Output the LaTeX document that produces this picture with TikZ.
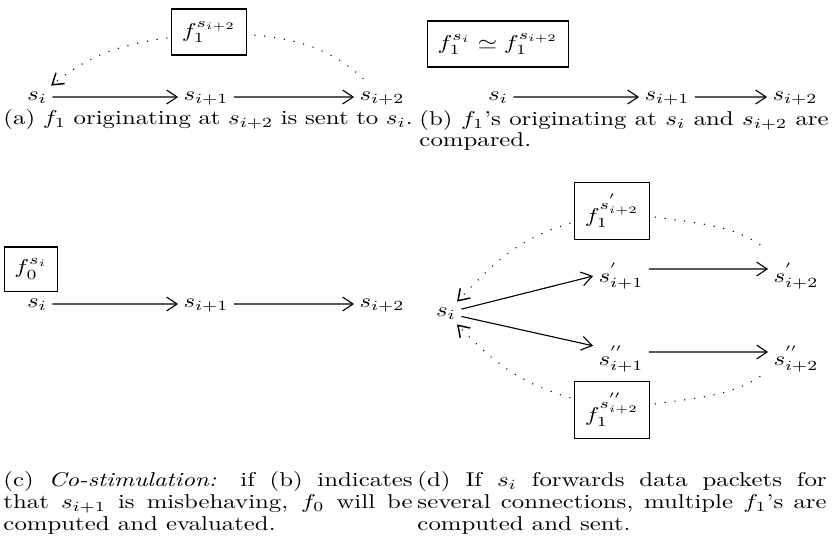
\documentclass[tikz,border=0pt]{standalone}
\usepackage{amsmath, amssymb}
\usepackage{tikz}
\usetikzlibrary{arrows.meta}

\begin{document}
\begin{tikzpicture}[x=0.4032pt, y=0.5003pt, yscale=0.806, transform shape,
  sn/.style={anchor=base, inner sep=2pt, text height=5pt, text depth=2pt},
  snp/.style={sn, text height=15pt},
  msgbox/.style={draw, line width=0.5pt, inner xsep=4pt, inner ysep=6pt, outer sep=2pt},
  link/.style={line width=0.45pt, -{Straight Barb[length=4.2pt, width=5.6pt]}},
  dotline/.style={line width=0.6pt, line cap=round, dash pattern=on 0pt off 4pt, shorten <=4pt},
  dotarrow/.style={line width=0.6pt, line cap=round, dash pattern=on 0pt off 4pt, -{Straight Barb[length=4.2pt, width=5.6pt]}},
  subcap/.style={anchor=base west, inner sep=0pt, text width=165pt, align=justify, font=\fontsize{10}{11}\selectfont}]
  \useasboundingbox (0,0) rectangle (832,-536);

  \node[sn] (a0) at (37,-100) {$s_i$};
  \node[sn] (a1) at (206,-100) {$s_{i+1}$};
  \node[sn] (a2) at (382,-100) {$s_{i+2}$};
  \node[msgbox] (af) at (209,-32) {$f_1^{s_{i+2}}$};
  \draw[link] (a0) -- (a1);
  \draw[link] (a1) -- (a2);
  \draw[dotarrow] (af) to[out=190, in=45] (a0);
  \draw[dotline] (a2) to[out=130, in=-5] (af);
  \node[subcap] (capa) at (3,-124) {(a) $f_1$ originating at $s_{i+2}$ is sent to $s_i$.};

  \node[msgbox] (bf) at (498,-44) {$f_1^{s_i} \simeq f_1^{s_{i+2}}$};
  \node[sn] (b0) at (498,-100) {$s_i$};
  \node[sn] (b1) at (667,-100) {$s_{i+1}$};
  \node[sn] (b2) at (795,-100) {$s_{i+2}$};
  \draw[link] (b0) -- (b1);
  \draw[link] (b1) -- (b2);
  \node[subcap] (capb) at (419,-125) {(b) $f_1$'s originating at $s_i$ and $s_{i+2}$ are compared.};

  \node[msgbox] (cf) at (31,-269) {$f_0^{s_i}$};
  \node[sn] (c0) at (37,-307) {$s_i$};
  \node[sn] (c1) at (206,-307) {$s_{i+1}$};
  \node[sn] (c2) at (382,-307) {$s_{i+2}$};
  \draw[link] (c0) -- (c1);
  \draw[link] (c1) -- (c2);
  \node[subcap] (capc) at (3,-486) {(c) \emph{Co-stimulation:} if (b) indicates\linebreak that $s_{i+1}$ is misbehaving, $f_0$ will be\linebreak computed and evaluated.};

  \node[sn] (d0) at (446,-316) {$s_i$};
  \node[snp] (da1) at (621,-282) {$s_{i+1}^{'}$};
  \node[snp] (da2) at (796,-282) {$s_{i+2}^{'}$};
  \node[snp] (db1) at (621,-365) {$s_{i+1}^{''}$};
  \node[snp] (db2) at (796,-365) {$s_{i+2}^{''}$};
  \node[msgbox] (fa) at (612,-211) {$f_1^{s_{i+2}^{'}}$};
  \node[msgbox] (fb) at (612,-410) {$f_1^{s_{i+2}^{''}}$};
  \draw[link] (d0) -- (da1);
  \draw[link] (d0) -- (db1);
  \draw[link] (da1) -- (da2);
  \draw[link] (db1) -- (db2);
  \draw[dotarrow] (fa) to[out=200, in=52] (d0);
  \draw[dotline] (da2) to[out=140, in=-10] (fa);
  \draw[dotarrow] (fb) to[out=160, in=-52] (d0);
  \draw[dotline] (db2) to[out=-140, in=10] (fb);
  \node[subcap] (capd) at (417,-486) {(d) If $s_i$ forwards data packets for\linebreak several connections, multiple $f_1$'s are\linebreak computed and sent.};
\end{tikzpicture}
\end{document}
